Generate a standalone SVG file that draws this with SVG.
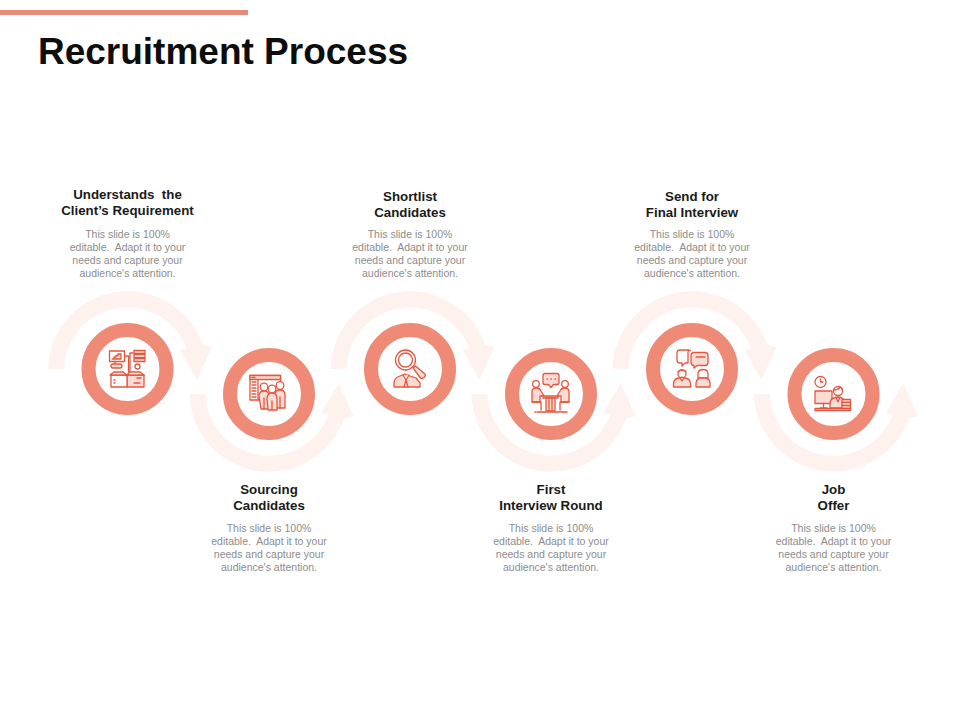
<svg xmlns="http://www.w3.org/2000/svg" width="960" height="720" viewBox="0 0 960 720">
<style>
.t{font-family:"Liberation Sans",Arial,sans-serif;text-anchor:middle}
.h{font-size:13.300px;font-weight:700;fill:#1a1a1a}
.b{font-size:10.500px;fill:#8c8c8c}
.ring{fill:#fff;stroke:#EE8A76;stroke-width:14}
.ic{fill:none;stroke:#E4573F;stroke-width:1.300;stroke-linejoin:round;stroke-linecap:round}
.f{fill:#FBDCD4}
.w{fill:#fff}
.arc{fill:#FDF2EE}
</style>
<defs>
<path id="top" class="arc" d="M-79.5 0A79.5 79.5 0 0 1 75 -24.500L84.5 -22L69.500 11L52.500 -19.300L59.500 -20.300A63.500 63.500 0 0 0 -63.500 0Z"/>
<path id="bot" class="arc" d="M-79.5 0A79.5 79.5 0 0 0 75 24.500L84.5 22L69.500 -11L52.500 19.300L59.500 20.300A63.500 63.500 0 0 1 -63.500 0Z"/>
</defs>
<rect x="0" y="10" width="248" height="5" fill="#E88A78"/>
<text class="t" x="223" y="64" font-size="37" font-weight="700" fill="#0d0d0d">Recruitment Process</text>
<g id="connectors">
<use href="#top" x="127.500" y="369"/>
<use href="#bot" x="269" y="394"/>
<use href="#top" x="410" y="369"/>
<use href="#bot" x="551" y="394"/>
<use href="#top" x="692" y="369"/>
<use href="#bot" x="833.500" y="394"/>
</g>
<g id="node1">
<circle class="ring" cx="127.500" cy="369" r="39"/>
<g class="ic">
<rect x="109.500" y="351" width="15" height="10.500"/>
<path class="f" d="M112 359h2v-2h2v-1.500h2v-1.500h3v5z"/>
<path d="M115 361.500v2M124.500 356h4v16M133 353h-3v19"/>
<rect class="f" x="134" y="350.500" width="11" height="3"/><rect class="w" x="134" y="354.500" width="11" height="3"/><rect class="f" x="134" y="358.500" width="11" height="3"/>
<rect class="f" x="111" y="364" width="11" height="4" rx="2"/>
<circle class="w" cx="137.500" cy="366.500" r="2.500"/>
<path class="f" d="M127 375h17v12h-17z"/><path class="w" d="M111 375h16v12h-16z"/>
<path class="w" d="M127 375l-4-3h-9l-4 3zM127 375l3-3h10l4 3z"/>
<path d="M114 380h1M114 383h1M134 383h6M137 378h4"/>
</g>
</g>
<g id="node2">
<circle class="ring" cx="269" cy="394" r="39"/>
<g class="ic">
<rect class="w" x="250" y="375.500" width="30.500" height="24.500"/>
<path class="f" d="M250 375.500h30.500v4h-30.500z"/>
<path d="M258 379.500v20.500M252 382h4M252 385h4M252 388h4M252 391h4M252 394h4M252 397h4M252 377.500h3"/>
<circle class="w" cx="264" cy="387" r="3.800"/><circle class="w" cx="280" cy="385.500" r="3.800"/>
<path class="f" d="M259 396q0-5 5-5t5 5v13h-8zM275 395q0-5 5-5t5 5v13h-8z"/>
<circle class="w" cx="272" cy="389" r="3.800"/>
<path class="f" d="M267 399q0-6 5-6t5 6v11h-9z"/>
<path d="M272 401v9M264 398v11M280 397v11"/>
</g>
</g>
<g id="node3">
<circle class="ring" cx="410" cy="369" r="39"/>
<g class="ic">
<path class="f" d="M394 387v-4q0-5 6-7l5-2 5 2 6 2 4 5v4z"/>
<path class="w" d="M403 375l3 5 3-5"/><path d="M406 380l-2 7M406 380l2 7"/>
<circle class="w" cx="405.500" cy="360" r="10"/><circle cx="405.500" cy="360" r="7"/>
<path class="f" d="M413 368l2.500-2 9.500 8q1 2-1 3.500t-3.500 .500z"/>
</g>
</g>
<g id="node4">
<circle class="ring" cx="551" cy="394" r="39"/>
<g class="ic">
<path class="f" d="M545 373.500h12q2 0 2 2v7q0 2-2 2h-3.500l-2.500 3-2.500-3h-3.500q-2 0-2-2v-7q0-2 2-2z"/>
<path d="M547 379h.5M551 379h.5M555 379h.5"/>
<circle class="w" cx="536" cy="384" r="3.300"/><circle class="w" cx="565" cy="384" r="3.300"/>
<path class="f" d="M532 402v-10q0-4 4-4t5 3l3 5h-4v6zM569 402v-10q0-4-4-4t-5 3l-3 5h4v6z"/>
<path d="M532 402h9v8M569 402h-9v8"/>
<path class="f" d="M543 396h15v2h-15z"/>
<path class="f" d="M546 398h9v13h-9z"/><path d="M549 398v13M552 398v13"/>
<path d="M537 412h30"/><path d="M535 412h.5" stroke-width="1.600"/>
</g>
</g>
<g id="node5">
<circle class="ring" cx="692" cy="369" r="39"/>
<g class="ic">
<path class="w" d="M680 350h9q-1 1-1 2v11h-3l-3 3v-3h-2q-3 0-3-3v-7q0-3 3-3z"/>
<path class="f" d="M694 352.500h11q3 0 3 3v7q0 3-3 3h-8l-3 2.500v-2.500q-3 0-3-3v-7q0-3 3-3z"/>
<path d="M696 357h9M690 350.500h.5"/>
<circle class="w" cx="682" cy="374" r="4"/><path d="M678 371.500q4-3 8 0"/>
<path class="f" d="M673.500 387v-3q0-5 5-6l3.500-1 3.500 1q5 1 5 6v3z"/>
<path d="M680 378l2 3 2-3"/>
<path class="w" d="M698 374q0-4.500 5-4.500t5 4.500v4h-10z"/>
<path class="f" d="M696 387v-3q0-5 4-6h6q4 1 4 6v3z"/>
</g>
</g>
<g id="node6">
<circle class="ring" cx="833.500" cy="394" r="39"/>
<g class="ic">
<circle class="w" cx="820.500" cy="382" r="5.500"/><path d="M820.500 379v3h2.500"/>
<path class="f" d="M815 391h17v12.500h-17z"/><path d="M823.500 403.500v5M820 408h7"/>
<path class="f" d="M830 408v-4q0-5 4-6l4-1 4 1q3 1 4 4v6z"/>
<circle class="w" cx="838" cy="391" r="4.500"/><path d="M833.500 390q4.500 0 7-3 1.500 1 2 3"/>
<path d="M836 397l2 5 2-5"/>
<path class="f" d="M842 399.500h8.500v3h-8.500z"/><path class="w" d="M842 402.500h8.500v3h-8.500z"/><path class="f" d="M842 405.500h8.500v3h-8.500z"/>
<path class="f" d="M815 408.500h35.500v2h-35.500z"/>
</g>
</g>
<g class="t h">
<text x="127.500" y="199">Understands&#160; the</text><text x="127.500" y="215">Client’s Requirement</text>
<text x="269" y="494">Sourcing</text><text x="269" y="510">Candidates</text>
<text x="410" y="201">Shortlist</text><text x="410" y="217">Candidates</text>
<text x="551" y="494">First</text><text x="551" y="510">Interview Round</text>
<text x="692" y="201">Send for</text><text x="692" y="217">Final Interview</text>
<text x="833.500" y="494">Job</text><text x="833.500" y="510">Offer</text>
</g>
<g class="t b">
<text x="127.500" y="238">This slide is 100%</text><text x="127.500" y="251">editable.&#160; Adapt it to your</text><text x="127.500" y="264">needs and capture your</text><text x="127.500" y="277">audience's attention.</text>
<text x="269" y="532">This slide is 100%</text><text x="269" y="545">editable.&#160; Adapt it to your</text><text x="269" y="558">needs and capture your</text><text x="269" y="571">audience's attention.</text>
<text x="410" y="238">This slide is 100%</text><text x="410" y="251">editable.&#160; Adapt it to your</text><text x="410" y="264">needs and capture your</text><text x="410" y="277">audience's attention.</text>
<text x="551" y="532">This slide is 100%</text><text x="551" y="545">editable.&#160; Adapt it to your</text><text x="551" y="558">needs and capture your</text><text x="551" y="571">audience's attention.</text>
<text x="692" y="238">This slide is 100%</text><text x="692" y="251">editable.&#160; Adapt it to your</text><text x="692" y="264">needs and capture your</text><text x="692" y="277">audience's attention.</text>
<text x="833.500" y="532">This slide is 100%</text><text x="833.500" y="545">editable.&#160; Adapt it to your</text><text x="833.500" y="558">needs and capture your</text><text x="833.500" y="571">audience's attention.</text>
</g>
</svg>
